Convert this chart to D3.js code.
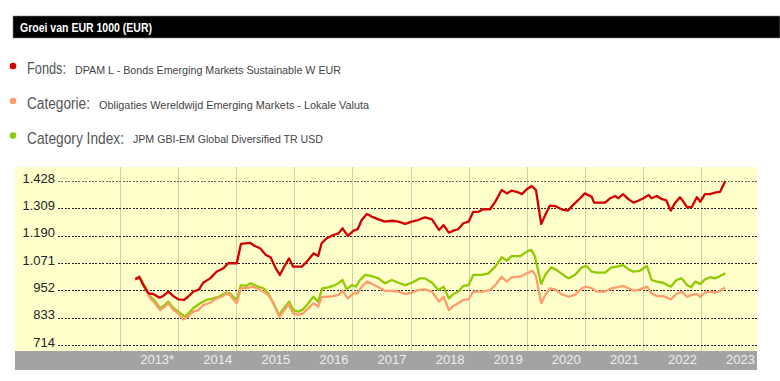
<!DOCTYPE html>
<html>
<head>
<meta charset="utf-8">
<script src="https://cdn.jsdelivr.net/npm/d3@7"></script>
<style>
  body { margin: 0; background: #fff; }
  text { font-family: "Liberation Sans", Arial, sans-serif; }
</style>
</head>
<body>
<div class="visContainer"></div>
<script>
// Data (decimal year, value).
const yTicks = [714, 833, 952, 1071, 1190, 1309, 1428];
const years = [2013, 2014, 2015, 2016, 2017, 2018, 2019, 2020, 2021, 2022, 2023];
const yearLabels = ['2013*', '2014', '2015', '2016', '2017', '2018', '2019', '2020', '2021', '2022', '2023'];

const seriesNames = ['Fonds:', 'Categorie:', 'Category Index:'];
const seriesDescs = [
    'DPAM L - Bonds Emerging Markets Sustainable W EUR',
    'Obligaties Wereldwijd Emerging Markets - Lokale Valuta',
    'JPM GBI-EM Global Diversified TR USD'
];
const seriesColors = ['#d20000', '#ff9c6c', '#8fcb00'];

const fonds = [
    [2013.26, 1000], [2013.33, 1011], [2013.40, 975], [2013.49, 939], [2013.57, 936],
    [2013.68, 920], [2013.74, 927], [2013.83, 946], [2013.92, 927], [2014.00, 913],
    [2014.10, 910], [2014.17, 924], [2014.26, 946], [2014.36, 956], [2014.43, 985],
    [2014.55, 1004], [2014.66, 1033], [2014.78, 1048], [2014.86, 1070], [2015.01, 1070],
    [2015.08, 1154], [2015.24, 1159], [2015.32, 1145], [2015.41, 1135], [2015.51, 1106],
    [2015.59, 1096], [2015.68, 1048], [2015.75, 1019], [2015.84, 1062], [2015.91, 1091],
    [2015.98, 1055], [2016.13, 1055], [2016.24, 1084], [2016.33, 1113], [2016.41, 1101],
    [2016.47, 1157], [2016.56, 1179], [2016.67, 1193], [2016.76, 1200], [2016.83, 1222],
    [2016.92, 1189], [2017.02, 1212], [2017.09, 1218], [2017.16, 1258], [2017.25, 1284],
    [2017.33, 1273], [2017.45, 1261], [2017.56, 1251], [2017.68, 1255], [2017.79, 1251],
    [2017.91, 1241], [2018.02, 1251], [2018.13, 1258], [2018.25, 1270], [2018.37, 1261],
    [2018.49, 1215], [2018.57, 1236], [2018.66, 1203], [2018.74, 1212], [2018.82, 1218],
    [2018.91, 1244], [2019.00, 1251], [2019.08, 1294], [2019.17, 1294], [2019.25, 1305],
    [2019.37, 1305], [2019.46, 1338], [2019.57, 1389], [2019.66, 1374], [2019.74, 1386],
    [2019.83, 1381], [2019.92, 1371], [2020.00, 1392], [2020.09, 1406], [2020.16, 1389],
    [2020.25, 1241], [2020.32, 1280], [2020.40, 1321], [2020.49, 1319], [2020.60, 1305],
    [2020.71, 1299], [2020.80, 1324], [2020.92, 1353], [2021.00, 1374], [2021.12, 1359],
    [2021.16, 1334], [2021.35, 1334], [2021.44, 1353], [2021.52, 1363], [2021.58, 1353],
    [2021.66, 1371], [2021.75, 1349], [2021.84, 1334], [2021.92, 1342], [2022.01, 1353],
    [2022.10, 1367], [2022.15, 1353], [2022.24, 1363], [2022.33, 1349], [2022.40, 1345],
    [2022.48, 1299], [2022.55, 1331], [2022.64, 1357], [2022.71, 1334], [2022.76, 1314],
    [2022.84, 1314], [2022.93, 1357], [2022.99, 1338], [2023.07, 1371], [2023.16, 1371],
    [2023.24, 1377], [2023.33, 1381], [2023.42, 1428]
];

const categorie = [
    [2013.26, 1000], [2013.34, 1004], [2013.43, 961], [2013.52, 917], [2013.60, 896],
    [2013.69, 866], [2013.77, 881], [2013.83, 896], [2013.92, 866], [2014.00, 852],
    [2014.09, 825], [2014.17, 837], [2014.26, 859], [2014.35, 866], [2014.43, 888],
    [2014.55, 898], [2014.66, 917], [2014.75, 924], [2014.82, 939], [2014.89, 932],
    [2014.98, 903], [2015.01, 896], [2015.08, 961], [2015.18, 961], [2015.27, 968],
    [2015.36, 961], [2015.47, 946], [2015.55, 932], [2015.64, 896], [2015.74, 837],
    [2015.81, 859], [2015.90, 892], [2015.98, 852], [2016.07, 845], [2016.15, 852],
    [2016.24, 874], [2016.33, 896], [2016.41, 881], [2016.47, 922], [2016.56, 924],
    [2016.67, 927], [2016.76, 932], [2016.83, 950], [2016.92, 917], [2017.02, 939],
    [2017.09, 939], [2017.16, 968], [2017.25, 990], [2017.34, 980], [2017.45, 965],
    [2017.56, 950], [2017.68, 950], [2017.79, 946], [2017.91, 936], [2018.02, 942],
    [2018.13, 953], [2018.25, 956], [2018.37, 946], [2018.49, 903], [2018.57, 924],
    [2018.66, 866], [2018.74, 884], [2018.82, 896], [2018.91, 910], [2019.00, 913],
    [2019.08, 946], [2019.23, 946], [2019.37, 953], [2019.46, 975], [2019.57, 1011],
    [2019.66, 990], [2019.74, 1009], [2019.83, 1011], [2019.92, 1014], [2020.00, 1026],
    [2020.10, 1037], [2020.16, 1014], [2020.25, 896], [2020.32, 932], [2020.40, 961],
    [2020.49, 956], [2020.60, 936], [2020.72, 924], [2020.83, 932], [2020.95, 961],
    [2021.03, 968], [2021.12, 961], [2021.21, 946], [2021.35, 946], [2021.46, 961],
    [2021.55, 965], [2021.66, 971], [2021.75, 961], [2021.84, 950], [2021.95, 956],
    [2022.07, 968], [2022.15, 939], [2022.24, 927], [2022.35, 927], [2022.48, 913],
    [2022.58, 936], [2022.67, 946], [2022.76, 924], [2022.84, 932], [2022.93, 936],
    [2022.99, 924], [2023.07, 942], [2023.16, 946], [2023.24, 942], [2023.33, 950],
    [2023.42, 965]
];

const categoryIndex = [
    [2013.26, 1000], [2013.34, 1006], [2013.43, 968], [2013.50, 932], [2013.60, 905],
    [2013.69, 874], [2013.77, 888], [2013.83, 903], [2013.92, 874], [2014.00, 859],
    [2014.12, 837], [2014.26, 874], [2014.38, 896], [2014.49, 910], [2014.61, 917],
    [2014.72, 927], [2014.82, 942], [2014.89, 939], [2014.98, 917], [2015.01, 910],
    [2015.08, 975], [2015.17, 971], [2015.25, 983], [2015.35, 971], [2015.47, 961],
    [2015.55, 939], [2015.64, 896], [2015.74, 845], [2015.82, 874], [2015.91, 903],
    [2015.98, 866], [2016.07, 859], [2016.15, 869], [2016.24, 896], [2016.33, 924],
    [2016.41, 903], [2016.48, 961], [2016.59, 965], [2016.70, 975], [2016.76, 983],
    [2016.83, 997], [2016.90, 956], [2016.99, 975], [2017.06, 968], [2017.13, 997],
    [2017.22, 1019], [2017.33, 1014], [2017.45, 1004], [2017.56, 983], [2017.68, 997],
    [2017.79, 985], [2017.91, 975], [2018.02, 985], [2018.16, 1004], [2018.25, 1004],
    [2018.37, 985], [2018.48, 953], [2018.57, 968], [2018.66, 917], [2018.74, 936],
    [2018.82, 946], [2018.91, 971], [2019.00, 975], [2019.08, 1019], [2019.23, 1019],
    [2019.34, 1026], [2019.46, 1055], [2019.57, 1096], [2019.66, 1081], [2019.74, 1101],
    [2019.89, 1101], [2020.00, 1120], [2020.08, 1128], [2020.14, 1101], [2020.25, 980],
    [2020.32, 1019], [2020.42, 1052], [2020.52, 1040], [2020.63, 1019], [2020.72, 1004],
    [2020.83, 1019], [2020.95, 1052], [2021.03, 1058], [2021.12, 1033], [2021.21, 1029],
    [2021.35, 1029], [2021.46, 1052], [2021.55, 1055], [2021.66, 1062], [2021.75, 1044],
    [2021.84, 1033], [2021.95, 1037], [2022.07, 1058], [2022.15, 997], [2022.24, 990],
    [2022.35, 985], [2022.48, 968], [2022.58, 997], [2022.67, 1004], [2022.76, 975],
    [2022.83, 965], [2022.90, 990], [2022.99, 980], [2023.07, 1000], [2023.16, 1009],
    [2023.24, 1004], [2023.33, 1014], [2023.42, 1026]
];

growthChart();

function growthChart() {
    // SVG constants.
    const width = 780;
    const height = 381;
    const plot = { left: 15, right: 757, top: 167, bottom: 351 };
    const gridLeft = 58;

    const svg = d3.select('.visContainer')
                  .append('svg')
                  .attr('width', width)
                  .attr('height', height);

    // Title bar.
    svg.append('rect')
       .attr('x', 13).attr('y', 16)
       .attr('width', width - 13).attr('height', 22)
       .attr('fill', '#000')
       .attr('stroke', '#888')
       .attr('stroke-width', 0.6);
    svg.append('text')
       .attr('x', 20).attr('y', 32)
       .attr('fill', '#fff')
       .attr('font-size', '12.5px')
       .attr('font-weight', 'bold')
       .attr('textLength', 132)
       .attr('lengthAdjust', 'spacingAndGlyphs')
       .text('Groei van EUR 1000 (EUR)');

    // Legend.
    const legendBase = [74, 109, 143.5];
    const labelWidths = [39, 63, 97];
    const descWidths = [266, 270, 190];
    const legend = svg.append('g');
    seriesNames.forEach((name, i) => {
        legend.append('circle')
              .attr('cx', 13).attr('cy', legendBase[i] - 8)
              .attr('r', 3.3)
              .attr('fill', seriesColors[i]);
        legend.append('text')
              .attr('x', 27).attr('y', legendBase[i])
              .attr('fill', '#555')
              .attr('font-size', '16px')
              .attr('textLength', labelWidths[i])
              .attr('lengthAdjust', 'spacingAndGlyphs')
              .text(name);
        legend.append('text')
              .attr('x', 27 + labelWidths[i] + 9).attr('y', legendBase[i] - 0.5)
              .attr('fill', '#444')
              .attr('font-size', '11.5px')
              .attr('textLength', descWidths[i])
              .attr('lengthAdjust', 'spacingAndGlyphs')
              .text(seriesDescs[i]);
    });

    // Plot background and axis band.
    svg.append('rect')
       .attr('x', plot.left).attr('y', plot.top)
       .attr('width', plot.right - plot.left).attr('height', plot.bottom - plot.top)
       .attr('fill', '#ffffcc');
    svg.append('rect')
       .attr('x', plot.left).attr('y', plot.bottom)
       .attr('width', plot.right - plot.left).attr('height', 19)
       .attr('fill', '#a3a3a3');

    // Scales.
    const x = d3.scaleLinear().domain([2012, 2024]).range([62, 759]);
    const y = d3.scaleLinear().domain([714, 1428]).range([345, 181]);

    // Vertical year separators.
    svg.append('g')
       .selectAll('line')
       .data(years)
       .join('line')
       .attr('x1', d => Math.round(x(d)) + 0.5)
       .attr('x2', d => Math.round(x(d)) + 0.5)
       .attr('y1', plot.top)
       .attr('y2', plot.bottom)
       .attr('stroke', '#d6d0a8')
       .attr('stroke-width', 1);

    // Y axis with dotted gridlines.
    const nl = d3.formatLocale({ decimal: ',', thousands: '.', grouping: [3], currency: ['€', ''] });
    const yAxis = d3.axisLeft(y)
                    .tickValues(yTicks)
                    .tickSize(-(plot.right - gridLeft))
                    .tickPadding(3)
                    .tickFormat(nl.format(','));
    const yg = svg.append('g')
                  .attr('transform', `translate(${gridLeft},0)`)
                  .call(yAxis);
    yg.select('.domain').remove();
    yg.selectAll('.tick line')
      .attr('stroke', (d, i) => d === 1428 ? '#666' : '#222')
      .attr('stroke-dasharray', '2,1.4')
      .attr('shape-rendering', 'crispEdges');
    yg.selectAll('.tick text')
      .attr('fill', '#222')
      .attr('font-size', '13px')
      .attr('font-family', '"Liberation Sans", Arial, sans-serif')
      .attr('dy', '0.1em');

    // Year labels in the band.
    svg.append('g')
       .selectAll('text')
       .data(years)
       .join('text')
       .attr('x', d => x(d + 1) - 4)
       .attr('y', 364)
       .attr('text-anchor', 'end')
       .attr('fill', '#eeeeee')
       .attr('font-size', '13px')
       .text((d, i) => yearLabels[i]);

    // Lines.
    const line = d3.line()
                   .x(d => x(d[0]))
                   .y(d => y(d[1]));
    const drawOrder = [[categoryIndex, 2], [categorie, 1], [fonds, 0]];
    drawOrder.forEach(([data, i]) => {
        svg.append('path')
           .datum(data)
           .attr('fill', 'none')
           .attr('stroke', seriesColors[i])
           .attr('stroke-width', 2.3)
           .attr('stroke-linejoin', 'round')
           .attr('d', line);
    });
}
</script>
</body>
</html>
